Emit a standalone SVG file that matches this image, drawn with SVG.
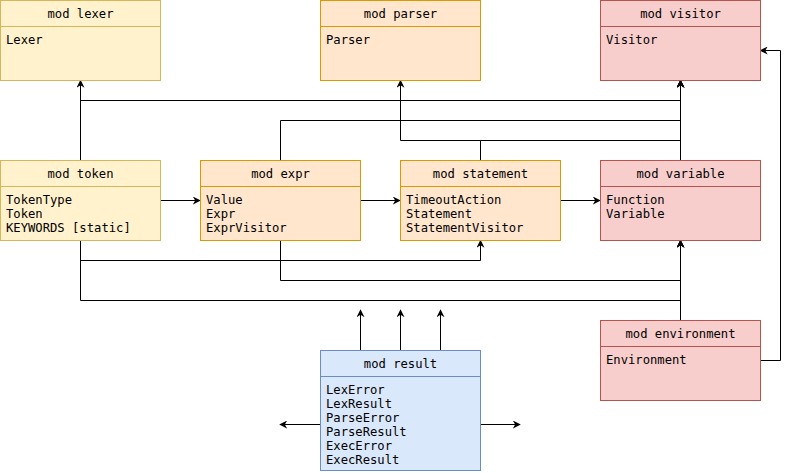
<svg xmlns="http://www.w3.org/2000/svg" width="789" height="474" viewBox="0 0 789 474">
  <style>
    text { font-family: "DejaVu Sans Mono", "Liberation Mono", monospace; font-size: 12.2px; fill: #000; }
    .title { text-anchor: middle; }
    .yellow { fill: #fff2cc; stroke: #d6b656; }
    .orange { fill: #ffe6cc; stroke: #d79b00; }
    .red { fill: #f8cecc; stroke: #b85450; }
    .blue { fill: #dae8fc; stroke: #6c8ebf; }
    .box rect, .box line { stroke-width: 1; }
    .edge { fill: none; stroke: #000; stroke-width: 1; marker-end: url(#arrow); }
  </style>
  <defs>
    <marker id="arrow" viewBox="0 0 10 10" refX="9" refY="5" markerWidth="8" markerHeight="8" markerUnits="userSpaceOnUse" orient="auto">
      <path d="M0,0 L10,5 L0,10 L3,5 Z" fill="#000"/>
    </marker>
  </defs>
  <rect width="789" height="474" fill="#fff"/>

  <!-- connectors: module dependencies -->
  <g id="connectors">
    <path class="edge" d="M80.5,160 V80.5"/>
    <path class="edge" d="M80.5,160 V100.5 H680.5 V80.5"/>
    <path class="edge" d="M280.5,160 V120.5 H680.5 V80.5"/>
    <path class="edge" d="M480.5,160 V140.5 H400.5 V80.5"/>
    <path class="edge" d="M480.5,160 V140.5 H680.5 V80.5"/>
    <path class="edge" d="M680.5,160 V80.5"/>
    <path class="edge" d="M160,200.5 H200"/>
    <path class="edge" d="M360,200.5 H400"/>
    <path class="edge" d="M560,200.5 H600"/>
    <path class="edge" d="M80.5,240 V260.5 H480.5 V240.5"/>
    <path class="edge" d="M280.5,240 V280.5 H680.5 V240.5"/>
    <path class="edge" d="M80.5,240 V300.5 H680.5 V240.5"/>
    <path class="edge" d="M680.5,320 V240.5"/>
    <path class="edge" d="M760,360.5 H780.5 V50.5 H760.5"/>
    <path class="edge" d="M360.5,350 V310"/>
    <path class="edge" d="M400.5,350 V310"/>
    <path class="edge" d="M440.5,350 V310"/>
    <path class="edge" d="M320,424.5 H280"/>
    <path class="edge" d="M480,424.5 H520"/>
  </g>

  <!-- modules -->
  <g id="lexer" class="box">
    <rect class="yellow" x="0.5" y="0.5" width="160" height="80"/>
    <line class="yellow" x1="0.5" y1="26.5" x2="160.5" y2="26.5"/>
    <text class="title" x="80.5" y="18">mod lexer</text>
    <text x="6" y="44">Lexer</text>
  </g>
  <g id="parser" class="box">
    <rect class="orange" x="320.5" y="0.5" width="160" height="80"/>
    <line class="orange" x1="320.5" y1="26.5" x2="480.5" y2="26.5"/>
    <text class="title" x="400.5" y="18">mod parser</text>
    <text x="326" y="44">Parser</text>
  </g>
  <g id="visitor" class="box">
    <rect class="red" x="600.5" y="0.5" width="160" height="80"/>
    <line class="red" x1="600.5" y1="26.5" x2="760.5" y2="26.5"/>
    <text class="title" x="680.5" y="18">mod visitor</text>
    <text x="606" y="44">Visitor</text>
  </g>
  <g id="token" class="box">
    <rect class="yellow" x="0.5" y="160.5" width="160" height="80"/>
    <line class="yellow" x1="0.5" y1="186.5" x2="160.5" y2="186.5"/>
    <text class="title" x="80.5" y="178">mod token</text>
    <text x="6" y="204">TokenType</text>
    <text x="6" y="218">Token</text>
    <text x="6" y="232">KEYWORDS [static]</text>
  </g>
  <g id="expr" class="box">
    <rect class="orange" x="200.5" y="160.5" width="160" height="80"/>
    <line class="orange" x1="200.5" y1="186.5" x2="360.5" y2="186.5"/>
    <text class="title" x="280.5" y="178">mod expr</text>
    <text x="206" y="204">Value</text>
    <text x="206" y="218">Expr</text>
    <text x="206" y="232">ExprVisitor</text>
  </g>
  <g id="statement" class="box">
    <rect class="orange" x="400.5" y="160.5" width="160" height="80"/>
    <line class="orange" x1="400.5" y1="186.5" x2="560.5" y2="186.5"/>
    <text class="title" x="480.5" y="178">mod statement</text>
    <text x="406" y="204">TimeoutAction</text>
    <text x="406" y="218">Statement</text>
    <text x="406" y="232">StatementVisitor</text>
  </g>
  <g id="variable" class="box">
    <rect class="red" x="600.5" y="160.5" width="160" height="80"/>
    <line class="red" x1="600.5" y1="186.5" x2="760.5" y2="186.5"/>
    <text class="title" x="680.5" y="178">mod variable</text>
    <text x="606" y="204">Function</text>
    <text x="606" y="218">Variable</text>
  </g>
  <g id="environment" class="box">
    <rect class="red" x="600.5" y="320.5" width="160" height="80"/>
    <line class="red" x1="600.5" y1="346.5" x2="760.5" y2="346.5"/>
    <text class="title" x="680.5" y="338">mod environment</text>
    <text x="606" y="364">Environment</text>
  </g>
  <g id="result" class="box">
    <rect class="blue" x="320.5" y="350.5" width="160" height="120"/>
    <line class="blue" x1="320.5" y1="376.5" x2="480.5" y2="376.5"/>
    <text class="title" x="400.5" y="368">mod result</text>
    <text x="326" y="394">LexError</text>
    <text x="326" y="408">LexResult</text>
    <text x="326" y="422">ParseError</text>
    <text x="326" y="436">ParseResult</text>
    <text x="326" y="450">ExecError</text>
    <text x="326" y="464">ExecResult</text>
  </g>
</svg>
